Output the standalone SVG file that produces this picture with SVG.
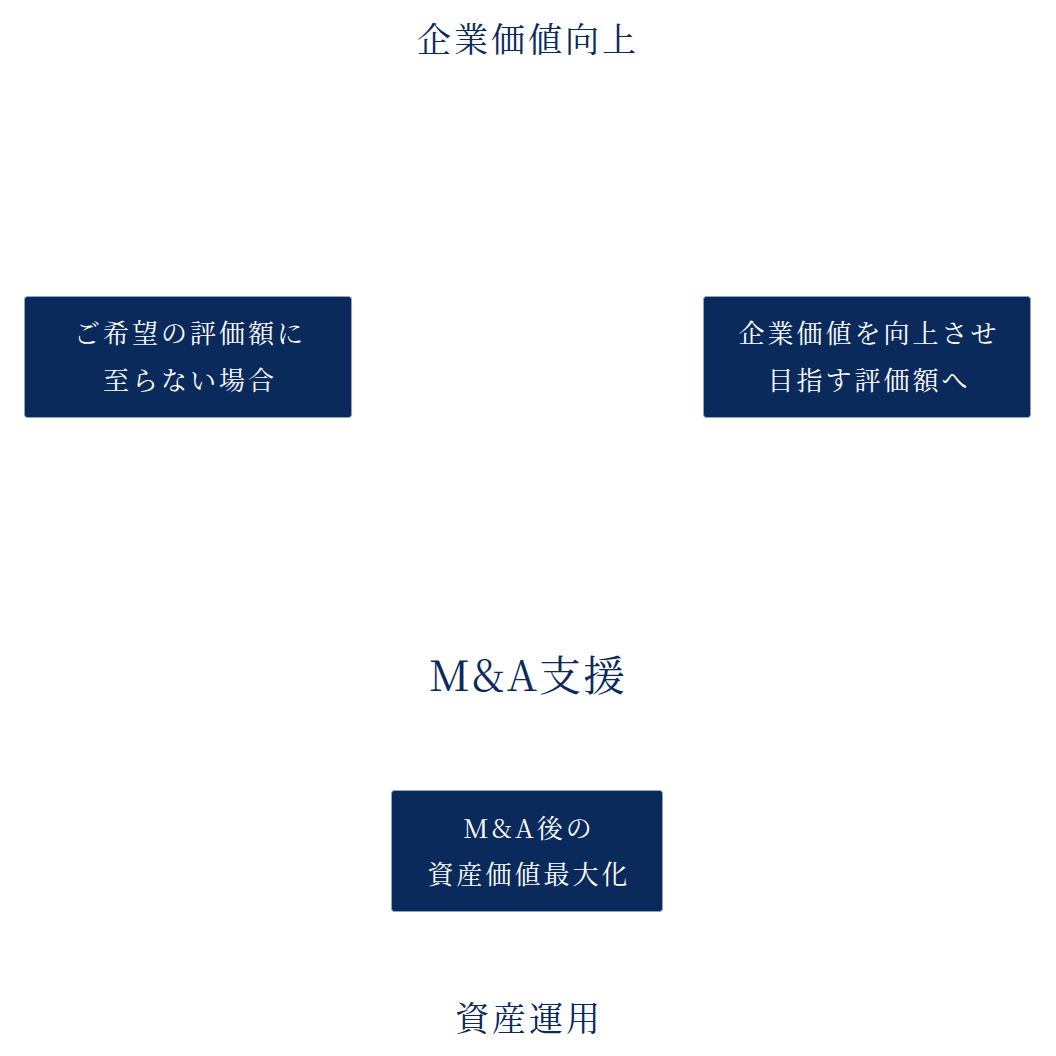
<svg xmlns="http://www.w3.org/2000/svg" width="1056" height="1056" viewBox="0 0 1056 1056">
<style>
.bg{fill:#ffffff}
.box{fill:#0a2a5c;stroke:#8fa3c4;stroke-width:1}
.title{font-family:"Noto Serif CJK JP","Liberation Serif","Noto Sans CJK JP",serif;fill:#0a2a5c;text-anchor:middle}
.lbl{font-family:"Noto Serif CJK JP","Liberation Serif","Noto Sans CJK JP",serif;fill:#ffffff;text-anchor:middle;font-size:26px;letter-spacing:3px}
</style>
<rect class="bg" x="0" y="0" width="1056" height="1056"/>
<g id="connectors"></g>
<g id="title-top"><text class="title" x="528" y="52" font-size="34" letter-spacing="3">企業価値向上</text></g>
<g id="title-ma"><text class="title" x="528" y="691" font-size="42" letter-spacing="2">M&amp;A支援</text></g>
<g id="title-bottom"><text class="title" x="529" y="1031" font-size="34" letter-spacing="3">資産運用</text></g>
<g id="node-left">
<rect class="box" x="24.5" y="296.5" width="327" height="121" rx="3"/>
<text class="lbl" x="190" y="343">ご希望の評価額に</text>
<text class="lbl" x="190" y="390">至らない場合</text>
</g>
<g id="node-right">
<rect class="box" x="703.5" y="296.5" width="327" height="121" rx="3"/>
<text class="lbl" x="869" y="343">企業価値を向上させ</text>
<text class="lbl" x="869" y="390">目指す評価額へ</text>
</g>
<g id="node-bottom">
<rect class="box" x="391.5" y="790.5" width="271" height="121" rx="3"/>
<text class="lbl" x="529" y="838">M&amp;A後の</text>
<text class="lbl" x="529" y="884">資産価値最大化</text>
</g>
</svg>
